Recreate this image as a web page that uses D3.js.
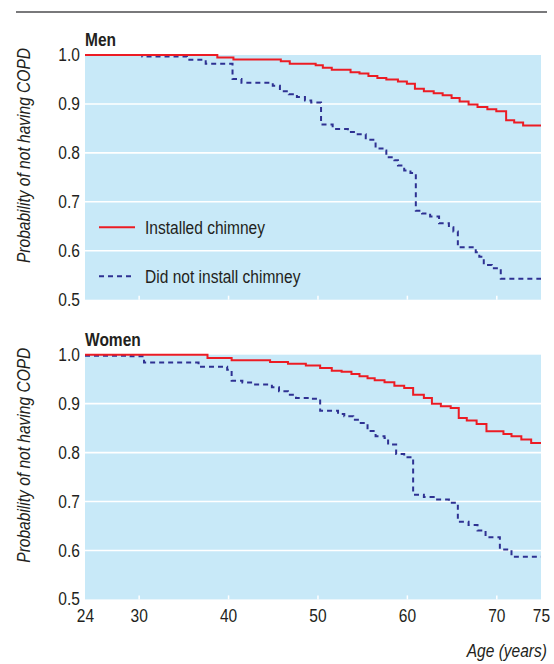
<!DOCTYPE html>
<html>
<head>
<meta charset="utf-8">
<script src="https://cdn.jsdelivr.net/npm/d3@7"></script>
<style>
  body { margin: 0; background: #fff; }
  svg text { font-family: "Liberation Sans", Arial, sans-serif; fill: #231f20; }
</style>
</head>
<body>
<div id="chart"></div>
<script>
// ages where each step begins, and the survival probability from that age on
var menInstalled = [[24,1.0],[38.8,0.9947],[40.6,0.991],[45.9,0.987],[46.9,0.982],[49.8,0.979],[50.6,0.974],
  [51.6,0.970],[53.7,0.965],[54.7,0.962],[55.7,0.957],[56.7,0.953],[57.7,0.950],[59.0,0.946],[60.0,0.9415],
  [60.9,0.931],[61.9,0.926],[63.0,0.922],[64.0,0.918],[65.0,0.912],[65.9,0.905],[66.9,0.899],[67.9,0.894],
  [69.0,0.889],[70.0,0.885],[71.1,0.8665],[72.0,0.862],[73.0,0.856],[75,0.856]]
var menNotInstalled = [[24,1.0],[30.4,0.997],[35.4,0.9905],[37.5,0.982],[40.5,0.951],[41.5,0.9435],[45.0,0.937],
  [45.8,0.926],[46.8,0.920],[47.7,0.914],[48.6,0.907],[49.3,0.9027],[50.4,0.858],[51.7,0.849],[53.4,0.8425],
  [54.5,0.838],[55.4,0.827],[56.5,0.809],[57.4,0.805],[57.7,0.791],[58.6,0.785],[59.0,0.774],[59.7,0.764],
  [60.4,0.759],[61.0,0.682],[61.7,0.676],[62.6,0.670],[63.6,0.656],[64.7,0.648],[65.2,0.6395],[65.7,0.607],
  [67.7,0.597],[68.1,0.588],[68.6,0.571],[69.5,0.5645],[70.5,0.543],[75,0.543]]
var womenInstalled = [[24,1.0],[37.7,0.9933],[40.4,0.9885],[44.7,0.985],[46.7,0.9817],[48.7,0.978],[50.3,0.973],
  [51.6,0.967],[52.7,0.965],[53.8,0.9606],[54.7,0.956],[55.6,0.952],[56.4,0.948],[57.5,0.9437],[58.6,0.9367],
  [59.7,0.932],[60.7,0.918],[61.9,0.9116],[62.8,0.900],[63.8,0.8947],[64.9,0.891],[65.8,0.8708],[66.7,0.8653],
  [67.8,0.8586],[68.9,0.8437],[70.8,0.838],[71.7,0.8335],[72.8,0.8266],[73.9,0.8198],[75,0.8198]]
var womenNotInstalled = [[24,0.998],[29.1,0.997],[30.6,0.984],[36.7,0.9755],[39.9,0.969],[40.4,0.947],[41.6,0.943],
  [42.7,0.939],[44.9,0.9335],[45.7,0.9253],[46.7,0.918],[47.6,0.9116],[49.3,0.910],[50.3,0.8857],[52.3,0.879],
  [53.0,0.874],[54.0,0.867],[54.7,0.8606],[55.6,0.844],[56.5,0.8335],[57.5,0.830],[57.9,0.8163],[58.8,0.797],
  [59.7,0.7906],[60.7,0.714],[61.9,0.709],[63.0,0.704],[64.7,0.6973],[65.7,0.6586],[66.9,0.652],[67.9,0.641],
  [68.8,0.627],[70.4,0.602],[71.7,0.587],[75,0.587]]

var panelTitles = ["Men", "Women"]
var seriesNames = ["Installed chimney", "Did not install chimney"]
var xTicks = [24, 30, 40, 50, 60, 70, 75]
var yTicks = [0.5, 0.6, 0.7, 0.8, 0.9, 1.0]
var yLabel = "Probability of not having COPD"
var xLabel = "Age (years)"

var width = 554, height = 664
var margin = {left: 85, right: 13}
var panelTops = [55, 354.7]
var panelHeight = 244.7
var bg = "#c8e9f8", red = "#ec1c24", blue = "#2e3192"
var narrow = 0.84   // no condensed face installed, so squeeze the text

var panels = [
    {title: panelTitles[0], installed: menInstalled, notInstalled: menNotInstalled, top: panelTops[0]},
    {title: panelTitles[1], installed: womenInstalled, notInstalled: womenNotInstalled, top: panelTops[1]}
]

var svg = d3.select("#chart").append("svg")
    .attr("width", width)
    .attr("height", height)

function addText(parent, x, y, str, extra){
    return parent.append("text")
        .attr("transform", `translate(${x},${y}) ${extra || ""} scale(${narrow},1)`)
        .text(str)
}

// rule across the top
svg.append("line")
    .attr("x1", 16).attr("x2", 547)
    .attr("y1", 12).attr("y2", 12)
    .attr("stroke", "#4d4d4f")
    .attr("stroke-width", 1.6)

var xScale = d3.scaleLinear().domain([24, 75]).range([margin.left, width - margin.right])

panels.forEach(function(p, i){
    var yScale = d3.scaleLinear().domain([0.5, 1.0]).range([p.top + panelHeight, p.top])
    var g = svg.append("g")

    g.append("rect")
        .attr("x", xScale(24))
        .attr("y", yScale(1.0))
        .attr("width", xScale(75) - xScale(24))
        .attr("height", yScale(0.5) - yScale(1.0))
        .attr("fill", bg)

    // white gridlines
    g.selectAll(".grid").data(yTicks.slice(1, -1)).enter().append("line")
        .attr("x1", xScale(24)).attr("x2", xScale(75))
        .attr("y1", d => yScale(d)).attr("y2", d => yScale(d))
        .attr("stroke", "#fff")
        .attr("stroke-width", 1.6)

    // little white ticks on the bottom edge
    var tickAxis = d3.axisBottom(xScale).tickValues(xTicks.slice(1, -1)).tickSize(-4).tickFormat("")
    var tg = g.append("g")
        .attr("transform", `translate(0,${yScale(0.5)})`)
        .call(tickAxis)
    tg.select(".domain").remove()
    tg.selectAll("line").attr("stroke", "#fff").attr("stroke-width", 1.5)

    var yAxis = d3.axisLeft(yScale).tickValues(yTicks).tickSize(0).tickPadding(6).tickFormat(d3.format(".1f"))
    var yg = g.append("g")
        .attr("transform", `translate(${xScale(24)},0)`)
        .call(yAxis)
    yg.select(".domain").remove()
    yg.selectAll("text")
        .attr("dy", "0.3em")
        .attr("transform", `scale(${narrow},1)`)
        .style("font-size", "18.5px")
        .style("font-family", null)

    addText(g, xScale(24), p.top - 9, p.title)
        .style("font-size", "18.5px")
        .style("font-weight", "bold")

    addText(g, 30, p.top + 100.5, yLabel, "rotate(-90)")
        .style("text-anchor", "middle")
        .style("font-size", "18.5px")
        .style("font-style", "italic")

    var line = d3.line()
        .x(d => xScale(d[0]))
        .y(d => yScale(d[1]))
        .curve(d3.curveStepAfter)

    g.append("path")
        .datum(p.notInstalled)
        .attr("d", line)
        .attr("fill", "none")
        .attr("stroke", blue)
        .attr("stroke-width", 2)
        .attr("stroke-dasharray", "5,4")

    g.append("path")
        .datum(p.installed)
        .attr("d", line)
        .attr("fill", "none")
        .attr("stroke", red)
        .attr("stroke-width", 2)

    if (i === 0){
        // legend
        var legY = [yScale(0.648), yScale(0.548)]
        g.append("line")
            .attr("x1", 99).attr("x2", 135)
            .attr("y1", legY[0]).attr("y2", legY[0])
            .attr("stroke", red).attr("stroke-width", 2)
        g.append("line")
            .attr("x1", 99).attr("x2", 135)
            .attr("y1", legY[1]).attr("y2", legY[1])
            .attr("stroke", blue).attr("stroke-width", 2)
            .attr("stroke-dasharray", "5,4")
        seriesNames.forEach(function(name, j){
            addText(g, 145, legY[j], name)
                .attr("dy", "0.35em")
                .style("font-size", "18.5px")
        })
    } else {
        var xAxis = d3.axisBottom(xScale).tickValues(xTicks).tickSize(0).tickPadding(9.5)
        var xg = g.append("g")
            .attr("transform", `translate(0,${yScale(0.5)})`)
            .call(xAxis)
        xg.select(".domain").remove()
        xg.selectAll("text")
            .attr("transform", `scale(${narrow},1)`)
            .style("font-size", "18.5px")
            .style("font-family", null)

        addText(g, 547, 657, xLabel)
            .style("text-anchor", "end")
            .style("font-size", "18.5px")
            .style("font-style", "italic")
    }
})
</script>
</body>
</html>
